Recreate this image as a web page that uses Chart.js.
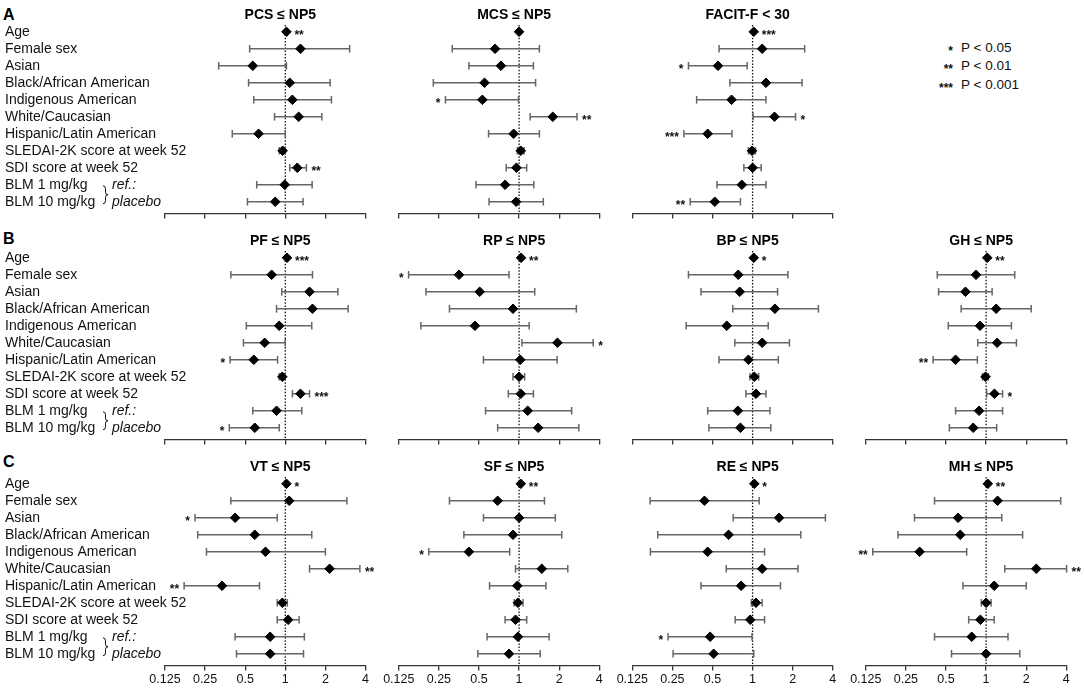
<!DOCTYPE html>
<html>
<head>
<meta charset="utf-8">
<title>Forest plots</title>
<script src="https://cdn.jsdelivr.net/npm/chart.js@4.4.1/dist/chart.umd.min.js"></script>
<style>
  html, body { margin: 0; padding: 0; background: #fff; }
  body { width: 1084px; height: 688px; position: relative; overflow: hidden;
         font-family: "Liberation Sans", Arial, sans-serif; color: #111; }
  canvas { position: absolute; }
  .letter { position: absolute; left: 3px; font-weight: bold; font-size: 16px; line-height: 16px; color: #000; }
  .legend { position: absolute; left: 900px; top: 39px; font-size: 13.5px; }
  .legend div { height: 18.3px; line-height: 18.3px; white-space: nowrap; }
  .legend span { display: inline-block; width: 53px; text-align: right; margin-right: 8px; font-size: 12px; font-weight: bold; vertical-align: top; position: relative; top: 3px; }
</style>
</head>
<body>
<div class="letter" style="top:7px">A</div>
<div class="letter" style="top:231px">B</div>
<div class="letter" style="top:454px">C</div>
<div class="legend">
  <div><span>*</span>P &lt; 0.05</div>
  <div><span>**</span>P &lt; 0.01</div>
  <div><span>***</span>P &lt; 0.001</div>
</div>

<script>
// rows and axis
const rowLabels = ['Age', 'Female sex', 'Asian', 'Black/African American', 'Indigenous American',
  'White/Caucasian', 'Hispanic/Latin American', 'SLEDAI-2K score at week 52', 'SDI score at week 52',
  'BLM 1 mg/kg', 'BLM 10 mg/kg'];
const xTicks = [0.125, 0.25, 0.5, 1, 2, 4];
const xTickLabels = ['0.125', '0.25', '0.5', '1', '2', '4'];

// A: PCS <= NP5
const pcsOR = [1.02, 1.30, 0.57, 1.08, 1.13, 1.26, 0.63, 0.955, 1.23, 0.99, 0.84];
const pcsLo = [1.01, 0.54, 0.316, 0.53, 0.58, 0.83, 0.40, 0.90, 1.08, 0.61, 0.52];
const pcsHi = [1.03, 3.04, 1.02, 2.17, 2.22, 1.88, 1.00, 1.00, 1.44, 1.59, 1.36];
const pcsSig = ['**', '', '', '', '', '', '', '', '**', '', ''];

// A: MCS <= NP5
const mcsOR = [1.00, 0.66, 0.73, 0.55, 0.53, 1.79, 0.91, 1.03, 0.955, 0.785, 0.95];
const mcsLo = [0.99, 0.315, 0.42, 0.227, 0.28, 1.21, 0.59, 0.97, 0.80, 0.475, 0.595];
const mcsHi = [1.01, 1.42, 1.28, 1.33, 0.99, 2.72, 1.42, 1.09, 1.14, 1.29, 1.52];
const mcsSig = ['', '', '', '', '*', '**', '', '', '', '', ''];

// A: FACIT-F < 30
const facOR = [1.02, 1.18, 0.55, 1.26, 0.695, 1.46, 0.46, 0.99, 1.00, 0.83, 0.52];
const facLo = [1.01, 0.56, 0.33, 0.675, 0.38, 1.01, 0.305, 0.93, 0.86, 0.54, 0.34];
const facHi = [1.03, 2.46, 0.91, 2.35, 1.26, 2.10, 0.70, 1.05, 1.16, 1.26, 0.81];
const facSig = ['***', '', '*', '', '', '*', '***', '', '', '', '**'];

// B: PF <= NP5
const pfOR = [1.03, 0.79, 1.52, 1.60, 0.90, 0.70, 0.58, 0.95, 1.30, 0.86, 0.59];
const pfLo = [1.02, 0.39, 0.94, 0.86, 0.51, 0.485, 0.385, 0.90, 1.13, 0.57, 0.38];
const pfHi = [1.04, 1.60, 2.48, 2.96, 1.58, 1.00, 0.875, 0.99, 1.52, 1.33, 0.90];
const pfSig = ['***', '', '', '', '', '', '*', '', '***', '', '*'];

// B: RP <= NP5
const rpOR = [1.035, 0.354, 0.506, 0.90, 0.466, 1.94, 1.02, 1.00, 1.03, 1.16, 1.39];
const rpLo = [1.02, 0.148, 0.20, 0.30, 0.183, 1.05, 0.54, 0.90, 0.83, 0.56, 0.69];
const rpHi = [1.05, 0.84, 1.31, 2.69, 1.19, 3.60, 1.93, 1.10, 1.28, 2.48, 2.81];
const rpSig = ['**', '*', '', '', '', '*', '', '', '', '', ''];

// B: BP <= NP5
const bpOR = [1.02, 0.78, 0.80, 1.47, 0.64, 1.18, 0.93, 1.03, 1.06, 0.775, 0.81];
const bpLo = [1.01, 0.33, 0.41, 0.71, 0.317, 0.736, 0.56, 0.955, 0.89, 0.46, 0.47];
const bpHi = [1.03, 1.84, 1.54, 3.12, 1.31, 1.89, 1.56, 1.11, 1.26, 1.35, 1.37];
const bpSig = ['*', '', '', '', '', '', '', '', '', '', ''];

// B: GH <= NP5
const ghOR = [1.02, 0.84, 0.70, 1.19, 0.90, 1.21, 0.59, 0.99, 1.155, 0.886, 0.80];
const ghLo = [1.01, 0.43, 0.44, 0.65, 0.52, 0.866, 0.40, 0.94, 1.01, 0.59, 0.53];
const ghHi = [1.03, 1.64, 1.11, 2.18, 1.55, 1.69, 0.86, 1.04, 1.33, 1.33, 1.20];
const ghSig = ['**', '', '', '', '', '', '**', '', '*', '', ''];

// C: VT <= NP5
const vtOR = [1.02, 1.07, 0.42, 0.59, 0.71, 2.15, 0.335, 0.95, 1.05, 0.77, 0.77];
const vtLo = [1.01, 0.39, 0.21, 0.22, 0.256, 1.52, 0.174, 0.87, 0.87, 0.42, 0.43];
const vtHi = [1.03, 2.90, 0.87, 1.58, 2.00, 3.63, 0.64, 1.035, 1.27, 1.39, 1.37];
const vtSig = ['*', '', '*', '', '', '**', '**', '', '', '', ''];

// C: SF <= NP5
const sfOR = [1.03, 0.69, 1.00, 0.90, 0.42, 1.48, 0.97, 0.98, 0.94, 0.98, 0.84];
const sfLo = [1.02, 0.30, 0.54, 0.385, 0.21, 0.94, 0.60, 0.92, 0.785, 0.575, 0.49];
const sfHi = [1.04, 1.55, 1.87, 2.09, 0.85, 2.32, 1.59, 1.07, 1.14, 1.68, 1.44];
const sfSig = ['**', '', '', '', '*', '', '', '', '', '', ''];

// C: RE <= NP5
const reOR = [1.03, 0.435, 1.58, 0.66, 0.46, 1.18, 0.82, 1.06, 0.96, 0.48, 0.51];
const reLo = [1.02, 0.17, 0.715, 0.194, 0.171, 0.634, 0.41, 0.98, 0.74, 0.232, 0.253];
const reHi = [1.04, 1.12, 3.52, 2.30, 1.23, 2.19, 1.62, 1.18, 1.23, 0.99, 1.02];
const reSig = ['*', '', '', '', '', '', '', '', '', '*', ''];

// C: MH <= NP5
const mhOR = [1.03, 1.22, 0.616, 0.64, 0.317, 2.38, 1.15, 1.00, 0.906, 0.78, 1.00];
const mhLo = [1.02, 0.41, 0.29, 0.218, 0.141, 1.38, 0.67, 0.92, 0.74, 0.41, 0.55];
const mhHi = [1.04, 3.63, 1.31, 1.88, 0.715, 4.02, 2.00, 1.09, 1.15, 1.46, 1.79];
const mhSig = ['**', '', '', '', '**', '**', '', '', '', '', ''];

const panels = [
  { title: 'PCS ≤ NP5', or: pcsOR, lo: pcsLo, hi: pcsHi, sig: pcsSig, row: 0, col: 0 },
  { title: 'MCS ≤ NP5', or: mcsOR, lo: mcsLo, hi: mcsHi, sig: mcsSig, row: 0, col: 1 },
  { title: 'FACIT-F < 30', or: facOR, lo: facLo, hi: facHi, sig: facSig, row: 0, col: 2 },
  { title: 'PF ≤ NP5', or: pfOR, lo: pfLo, hi: pfHi, sig: pfSig, row: 1, col: 0 },
  { title: 'RP ≤ NP5', or: rpOR, lo: rpLo, hi: rpHi, sig: rpSig, row: 1, col: 1 },
  { title: 'BP ≤ NP5', or: bpOR, lo: bpLo, hi: bpHi, sig: bpSig, row: 1, col: 2 },
  { title: 'GH ≤ NP5', or: ghOR, lo: ghLo, hi: ghHi, sig: ghSig, row: 1, col: 3 },
  { title: 'VT ≤ NP5', or: vtOR, lo: vtLo, hi: vtHi, sig: vtSig, row: 2, col: 0 },
  { title: 'SF ≤ NP5', or: sfOR, lo: sfLo, hi: sfHi, sig: sfSig, row: 2, col: 1 },
  { title: 'RE ≤ NP5', or: reOR, lo: reLo, hi: reHi, sig: reSig, row: 2, col: 2 },
  { title: 'MH ≤ NP5', or: mhOR, lo: mhLo, hi: mhHi, sig: mhSig, row: 2, col: 3 }
];

const FONT = '"Liberation Sans", Arial, sans-serif';
Chart.defaults.font.family = FONT;

// layout of the grid
const axisLeft = [165, 398.8, 632.3, 865.8];
const axisW = 200.5;
const rowTop = [0, 226, 452];
const rowH = [226, 226, 236];
const plotTop = 25, plotBottom = 213.5;

// dotted reference line, row labels, significance stars, panel title, brace
const forestDecor = {
  id: 'forestDecor',
  beforeDatasetsDraw(chart) {
    const { ctx, chartArea, scales: { x } } = chart;
    const x1 = x.getPixelForValue(1);
    ctx.save();
    ctx.strokeStyle = '#111';
    ctx.lineWidth = 1.3;
    ctx.setLineDash([1.5, 1.7]);
    ctx.beginPath();
    ctx.moveTo(x1, chartArea.top);
    ctx.lineTo(x1, chartArea.bottom);
    ctx.stroke();
    ctx.restore();
  },
  afterDatasetsDraw(chart, args, opts) {
    const { ctx, scales: { x, y } } = chart;
    const p = opts.panel;
    ctx.save();
    ctx.fillStyle = '#111';
    ctx.font = 'bold 12px ' + FONT;
    ctx.textBaseline = 'alphabetic';
    p.sig.forEach((s, i) => {
      if (!s) return;
      const yy = y.getPixelForValue(i) + 7;
      const pt = x.getPixelForValue(p.or[i]);
      if (p.or[i] < 1) {
        ctx.textAlign = 'right';
        ctx.fillText(s, Math.min(x.getPixelForValue(p.lo[i]) - 5, pt - 8), yy);
      } else {
        ctx.textAlign = 'left';
        ctx.fillText(s, Math.max(x.getPixelForValue(p.hi[i]) + 5, pt + 8), yy);
      }
    });

    ctx.fillStyle = '#000';
    ctx.font = 'bold 14px ' + FONT;
    ctx.textAlign = 'center';
    ctx.textBaseline = 'middle';
    ctx.fillText(p.title, x.getPixelForValue(1) - 5, 15);

    if (p.col === 0) {
      // row labels down the left side
      ctx.fillStyle = '#111';
      ctx.font = '14px ' + FONT;
      ctx.textAlign = 'left';
      rowLabels.forEach((lab, i) => ctx.fillText(lab, 5, y.getPixelForValue(i) + 0.5));

      // "} ref.: placebo" next to the BLM rows
      const y1 = y.getPixelForValue(9) + 1;
      const y2 = y.getPixelForValue(10) + 2;
      const ym = (y1 + y2) / 2;
      const bx = 103;
      ctx.strokeStyle = '#111';
      ctx.lineWidth = 1;
      ctx.beginPath();
      ctx.moveTo(bx, y1);
      ctx.quadraticCurveTo(bx + 2.5, y1, bx + 2.5, y1 + 3);
      ctx.lineTo(bx + 2.5, ym - 2.5);
      ctx.quadraticCurveTo(bx + 2.5, ym, bx + 5, ym);
      ctx.quadraticCurveTo(bx + 2.5, ym, bx + 2.5, ym + 2.5);
      ctx.lineTo(bx + 2.5, y2 - 3);
      ctx.quadraticCurveTo(bx + 2.5, y2, bx, y2);
      ctx.stroke();
      ctx.font = 'italic 14px ' + FONT;
      ctx.fillText('ref.:', 112, y.getPixelForValue(9) + 0.5);
      ctx.fillText('placebo', 112, y.getPixelForValue(10) + 0.5);
    }
    ctx.restore();
  }
};

panels.forEach(p => {
  const first = p.col === 0;
  const canvasLeft = first ? 0 : Math.round(axisLeft[p.col] - 28);
  const canvasW = first ? 406 : 270;
  const h = rowH[p.row];
  const padLeft = axisLeft[p.col] - canvasLeft;
  const padRight = canvasW - padLeft - axisW;

  const cv = document.createElement('canvas');
  cv.width = canvasW;
  cv.height = h;
  cv.style.left = canvasLeft + 'px';
  cv.style.top = rowTop[p.row] + 'px';
  cv.style.width = canvasW + 'px';
  cv.style.height = h + 'px';
  document.body.appendChild(cv);

  const datasets = [{
    data: p.or.map((v, i) => ({ x: v, y: i })),
    pointStyle: 'rectRot',
    pointRadius: 4.8,
    pointHoverRadius: 4.8,
    backgroundColor: '#000',
    borderColor: '#000',
    borderWidth: 1,
    clip: false
  }];
  p.lo.forEach((lo, i) => {
    datasets.push({
      showLine: true,
      data: [{ x: lo, y: i }, { x: p.hi[i], y: i }],
      borderColor: '#666',
      borderWidth: 1.5,
      pointStyle: 'line',
      pointRadius: 3.8,
      pointHoverRadius: 3.8,
      pointRotation: 90,
      pointBorderColor: '#666',
      pointBorderWidth: 1.5,
      clip: false
    });
  });

  new Chart(cv, {
    type: 'scatter',
    data: { datasets: datasets },
    options: {
      responsive: false,
      animation: false,
      events: [],
      layout: {
        padding: { left: padLeft, right: padRight, top: plotTop, bottom: 0 }
      },
      scales: {
        x: {
          type: 'logarithmic',
          min: 0.125,
          max: 4,
          afterBuildTicks: s => { s.ticks = xTicks.map(v => ({ value: v })); },
          afterFit: s => { s.height = h - plotBottom; },
          grid: { drawOnChartArea: false, drawTicks: true, tickLength: 5, color: '#333', lineWidth: 1.3 },
          border: { color: '#333', width: 1.3 },
          ticks: {
            display: p.row === 2,
            autoSkip: false,
            maxRotation: 0,
            padding: 2,
            color: '#111',
            font: { size: 12.5 },
            callback: (v, i) => xTickLabels[i]
          }
        },
        y: {
          type: 'linear',
          reverse: true,
          min: -0.4,
          max: 10.69,
          display: false
        }
      },
      plugins: {
        legend: { display: false },
        tooltip: { enabled: false },
        forestDecor: { panel: p }
      }
    },
    plugins: [forestDecor]
  });
});
</script>
</body>
</html>
